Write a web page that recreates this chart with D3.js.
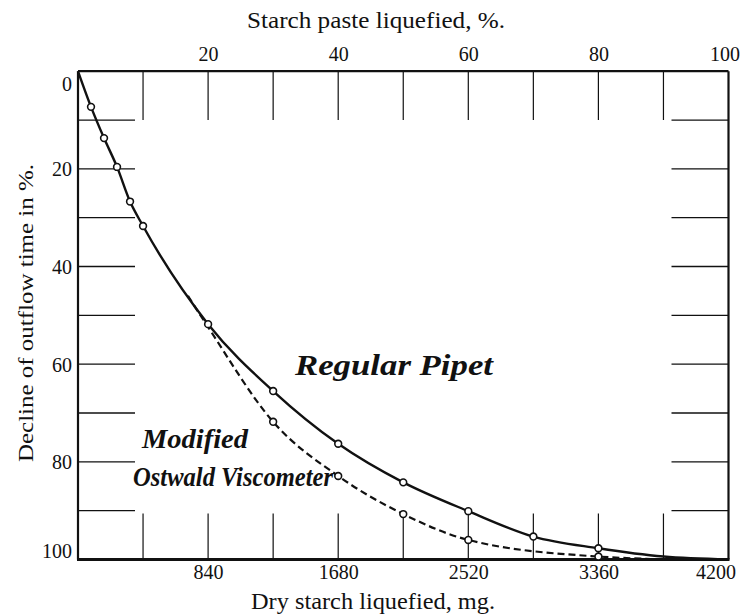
<!DOCTYPE html>
<html>
<head>
<meta charset="utf-8">
<script src="https://cdn.jsdelivr.net/npm/d3@7"></script>
<style>
  body { margin: 0; background: #fff; }
  svg { display: block; }
  text { font-family: "Liberation Serif", "DejaVu Serif", serif; fill: #111; }
</style>
</head>
<body>
<svg id="chart" width="743" height="615"></svg>
<script>
// ---- data ----
const regularX = [0, 84, 168, 252, 336, 420, 840, 1260, 1680, 2100, 2520, 2940, 3360, 3780, 4200];
const regularY = [0, 7.3, 13.7, 19.6, 26.7, 31.7, 51.8, 65.5, 76.3, 84.2, 90.1, 95.3, 97.7, 99.4, 100];
const regularMarked = [84, 168, 252, 336, 420, 840, 1260, 1680, 2100, 2520, 2940, 3360];

const modifiedX = [710, 840, 1260, 1680, 2100, 2520, 3360, 3700];
const modifiedY = [46.0, 52.4, 71.8, 82.9, 90.7, 96.0, 99.4, 99.9];
const modifiedMarked = [1260, 1680, 2100, 2520, 3360];

const bottomTicks = [840, 1680, 2520, 3360, 4200];
const topTicks = [20, 40, 60, 80, 100];
const leftTicks = [0, 20, 40, 60, 80, 100];
const gridDivX = [420, 840, 1260, 1680, 2100, 2520, 2940, 3360, 3780];
const gridDivY = [10, 20, 30, 40, 50, 60, 70, 80, 90];

// ---- layout ----
const L = 78, R = 728.5, T = 71.2, B = 559.5;
const svg = d3.select("#chart");
const x = d3.scaleLinear().domain([0, 4200]).range([L, R]);
const xTop = d3.scaleLinear().domain([0, 100]).range([L, R]);
const y = d3.scaleLinear().domain([0, 100]).range([T, B]);

const g = svg.append("g");

// short grid stubs from each border
const stubY = y(10) - y(0);
const stubX = 57;
g.selectAll(".gt").data(gridDivX).join("line")
  .attr("x1", d => x(d)).attr("x2", d => x(d))
  .attr("y1", T).attr("y2", T + stubY)
  .attr("stroke", "#111").attr("stroke-width", 1.2);
g.selectAll(".gb").data(gridDivX).join("line")
  .attr("x1", d => x(d)).attr("x2", d => x(d))
  .attr("y1", B).attr("y2", B - 46)
  .attr("stroke", "#111").attr("stroke-width", 1.2);
g.selectAll(".gl").data(gridDivY).join("line")
  .attr("x1", L).attr("x2", L + stubX)
  .attr("y1", d => y(d)).attr("y2", d => y(d))
  .attr("stroke", "#111").attr("stroke-width", 1.3);
g.selectAll(".gr").data(gridDivY).join("line")
  .attr("x1", R).attr("x2", R - stubX)
  .attr("y1", d => y(d)).attr("y2", d => y(d))
  .attr("stroke", "#111").attr("stroke-width", 1.3);

// frame
g.append("line").attr("x1", L).attr("x2", R).attr("y1", T).attr("y2", T).attr("stroke", "#111").attr("stroke-width", 2.2);
g.append("line").attr("x1", L).attr("x2", L).attr("y1", T).attr("y2", B).attr("stroke", "#111").attr("stroke-width", 2.2);
g.append("line").attr("x1", R).attr("x2", R).attr("y1", T).attr("y2", B).attr("stroke", "#111").attr("stroke-width", 2.2);
g.append("line").attr("x1", L - 1).attr("x2", R + 1).attr("y1", B).attr("y2", B).attr("stroke", "#111").attr("stroke-width", 3);

// axes labels via d3 axes
const axB = d3.axisBottom(x).tickValues(bottomTicks).tickSize(0).tickPadding(0).tickFormat(d3.format("d"));
const gB = svg.append("g").attr("transform", `translate(0,${B})`).call(axB);
gB.select(".domain").remove();
gB.selectAll("text").attr("font-size", 20).attr("dy", "0").attr("y", 19)
  .attr("font-family", "Liberation Serif").attr("fill", "#111")
  .attr("dx", d => d === 4200 ? -13 : 0);

const axT = d3.axisTop(xTop).tickValues(topTicks).tickSize(0).tickPadding(0);
const gT = svg.append("g").attr("transform", `translate(0,${T})`).call(axT);
gT.select(".domain").remove();
gT.selectAll("text").attr("font-size", 20).attr("y", -10)
  .attr("font-family", "Liberation Serif").attr("fill", "#111")
  .attr("dx", d => d === 100 ? -4 : 0);

const axL = d3.axisLeft(y).tickValues(leftTicks).tickSize(0).tickPadding(6);
const gL = svg.append("g").attr("transform", `translate(${L},0)`).call(axL);
gL.select(".domain").remove();
gL.selectAll("text").attr("font-size", 20)
  .attr("font-family", "Liberation Serif").attr("fill", "#111")
  .attr("dy", d => d === 0 ? "0.95em" : d === 100 ? "-0.1em" : "0.35em");

// titles
svg.append("text").attr("x", 376).attr("y", 28).attr("text-anchor", "middle")
  .attr("font-size", 23).attr("textLength", 258).attr("lengthAdjust", "spacingAndGlyphs")
  .text("Starch paste liquefied, %.");
svg.append("text").attr("x", 373).attr("y", 609).attr("text-anchor", "middle")
  .attr("font-size", 23).attr("textLength", 244).attr("lengthAdjust", "spacingAndGlyphs")
  .text("Dry starch liquefied, mg.");
svg.append("text").attr("transform", "translate(33,313) rotate(-90)").attr("text-anchor", "middle")
  .attr("font-size", 22).attr("textLength", 298).attr("lengthAdjust", "spacingAndGlyphs")
  .text("Decline of outflow time in %.");

// curves
const line = d3.line().x(d => x(d[0])).y(d => y(d[1])).curve(d3.curveMonotoneX);
const regular = regularX.map((v, i) => [v, regularY[i]]);
const modified = modifiedX.map((v, i) => [v, modifiedY[i]]);

g.append("path").datum(modified).attr("d", line)
  .attr("fill", "none").attr("stroke", "#111").attr("stroke-width", 2.2)
  .attr("stroke-dasharray", "7,4");
g.append("path").datum(regular).attr("d", line)
  .attr("fill", "none").attr("stroke", "#111").attr("stroke-width", 2.4);

const mk = (arr, marked) => arr.filter(d => marked.includes(d[0]));
g.selectAll(".pm").data(mk(modified, modifiedMarked)).join("circle")
  .attr("cx", d => x(d[0])).attr("cy", d => y(d[1])).attr("r", 3.4)
  .attr("fill", "#fff").attr("stroke", "#111").attr("stroke-width", 1.6);
g.selectAll(".pr").data(mk(regular, regularMarked)).join("circle")
  .attr("cx", d => x(d[0])).attr("cy", d => y(d[1])).attr("r", 3.4)
  .attr("fill", "#fff").attr("stroke", "#111").attr("stroke-width", 1.6);

// series labels (script-like)
const lab = (t, xx, yy, fs, len) => svg.append("text")
  .attr("x", xx).attr("y", yy).attr("font-size", fs)
  .attr("font-style", "italic").attr("font-weight", "bold")
  .attr("textLength", len).attr("lengthAdjust", "spacingAndGlyphs").text(t);
lab("Regular Pipet", 295, 375, 30, 198);
lab("Modified", 142, 448, 27, 106);
lab("Ostwald Viscometer", 133, 486, 27, 200);
</script>
</body>
</html>
